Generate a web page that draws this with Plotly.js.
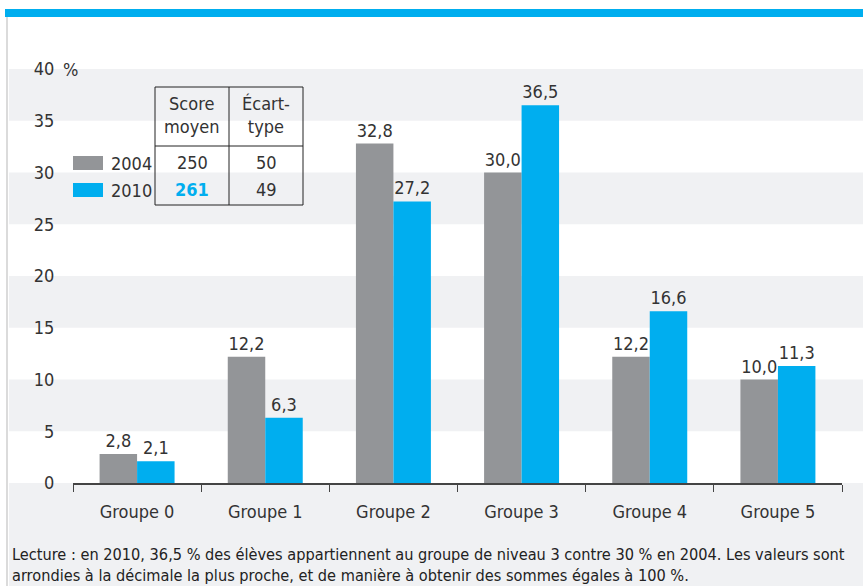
<!DOCTYPE html>
<html>
<head>
<meta charset="utf-8">
<script src="https://cdn.plot.ly/plotly-3.0.1.min.js"></script>
<style>html,body{margin:0;padding:0;background:#fff;}#chart{width:863px;height:586px;}</style>
</head>
<body>
<div id="chart"></div>
<script>
// ---- data ----
var categories = ["Groupe 0", "Groupe 1", "Groupe 2", "Groupe 3", "Groupe 4", "Groupe 5"];
var seriesNames = ["2004", "2010"];
var values2004 = [2.8, 12.2, 32.8, 30.0, 12.2, 10.0];
var values2010 = [2.1, 6.3, 27.2, 36.5, 16.6, 11.3];
var yTickVals = [0, 5, 10, 15, 20, 25, 30, 35, 40];
var yTickText = ["0", "5", "10", "15", "20", "25", "30", "35", "40"];
var tableHeader = ["Score<br>moyen", "Écart-<br>type"];
var scoreMoyen = ["250", "261"];
var ecartType = ["50", "49"];
var footnote = "Lecture : en 2010, 36,5 % des élèves appartiennent au groupe de niveau 3 contre 30 % en 2004. Les valeurs sont<br>arrondies à la décimale la plus proche, et de manière à obtenir des sommes égales à 100 %.";

// ---- layout geometry (pixels) ----
var W = 863, H = 586;
var mL = 73, mR = 21, mT = 69, mB = 103;
var pw = W - mL - mR, ph = H - mT - mB;
function px(x){ return (x - mL) / pw; }
function py(y){ return (H - mB - y) / ph; }

var FONT = "'Liberation Sans Narrow', 'DejaVu Sans Condensed', 'Arial Narrow', sans-serif";
var GRAY = "#939598", BLUE = "#00aeef", TXT = "#333333";
var FS = 18;

var traces = [
  {type: "bar", name: seriesNames[0], x: categories, y: values2004, marker: {color: GRAY},
   texttemplate: "%{y:.1f}", textposition: "outside", cliponaxis: false,
   textfont: {family: FONT, size: FS, color: TXT}, hoverinfo: "none", showlegend: false},
  {type: "bar", name: seriesNames[1], x: categories, y: values2010, marker: {color: BLUE},
   texttemplate: "%{y:.1f}", textposition: "outside", cliponaxis: false,
   textfont: {family: FONT, size: FS, color: TXT}, hoverinfo: "none", showlegend: false}
];

var shapes = [];
// alternating background bands
for (var i = 0; i < yTickVals.length - 1; i++) {
  if (i % 2 === 1) {
    shapes.push({type: "rect", layer: "below", xref: "paper", yref: "y",
      x0: px(9), x1: px(W + 5), y0: yTickVals[i], y1: yTickVals[i + 1],
      fillcolor: "#f0f1f3", line: {width: 0}});
  }
}
// footer band
shapes.push({type: "rect", layer: "below", xref: "paper", yref: "paper",
  x0: px(9), x1: px(W + 5), y0: py(H + 5), y1: 0, fillcolor: "#f0f1f3", line: {width: 0}});
// top blue bar
shapes.push({type: "rect", layer: "above", xref: "paper", yref: "paper",
  x0: px(5), x1: px(W + 5), y0: py(17), y1: py(9), fillcolor: BLUE, line: {width: 0}});
// left frame line
shapes.push({type: "line", layer: "above", xref: "paper", yref: "paper",
  x0: px(7), x1: px(7), y0: py(17), y1: py(H + 5), line: {color: "#cfcfcf", width: 1.5}});
// table
shapes.push({type: "rect", layer: "above", xref: "paper", yref: "paper",
  x0: px(155), x1: px(303), y0: py(205), y1: py(87), fillcolor: "rgba(0,0,0,0)", line: {color: "#222", width: 1}});
shapes.push({type: "line", layer: "above", xref: "paper", yref: "paper",
  x0: px(229), x1: px(229), y0: py(205), y1: py(87), line: {color: "#222", width: 1}});
shapes.push({type: "line", layer: "above", xref: "paper", yref: "paper",
  x0: px(155), x1: px(303), y0: py(146), y1: py(146), line: {color: "#222", width: 1}});
// legend swatches
shapes.push({type: "rect", layer: "above", xref: "paper", yref: "paper",
  x0: px(73), x1: px(103), y0: py(170), y1: py(156), fillcolor: GRAY, line: {width: 0}});
shapes.push({type: "rect", layer: "above", xref: "paper", yref: "paper",
  x0: px(73), x1: px(103), y0: py(197), y1: py(183), fillcolor: BLUE, line: {width: 0}});

function ann(text, x, y, opts) {
  var a = {text: text, xref: "paper", yref: "paper", x: px(x), y: py(y), showarrow: false,
    xanchor: "center", yanchor: "middle", font: {family: FONT, size: FS, color: TXT}};
  for (var k in opts) a[k] = opts[k];
  return a;
}
var annotations = [
  ann("%", 61, 69, {xanchor: "left"}),
  ann(tableHeader[0], 192, 115),
  ann(tableHeader[1], 266, 115),
  ann(scoreMoyen[0], 192, 162),
  ann(scoreMoyen[1], 192, 189, {font: {family: FONT, size: FS, color: BLUE}, text: "<b>" + scoreMoyen[1] + "</b>"}),
  ann(ecartType[0], 266, 162),
  ann(ecartType[1], 266, 189),
  ann(seriesNames[0], 109, 163, {xanchor: "left"}),
  ann(seriesNames[1], 109, 190, {xanchor: "left"}),
  ann(footnote, 10, 565, {xanchor: "left", align: "left", font: {family: FONT, size: 16.2, color: "#222"}})
];

var layout = {
  width: W, height: H,
  margin: {l: mL, r: mR, t: mT, b: mB, pad: 0},
  paper_bgcolor: "#ffffff", plot_bgcolor: "rgba(0,0,0,0)",
  separators: ", ",
  barmode: "group", bargap: 0.415, bargroupgap: 0,
  showlegend: false,
  font: {family: FONT, size: FS, color: TXT},
  xaxis: {type: "category", showgrid: false, zeroline: false, showline: true, linecolor: "#444", linewidth: 1.5,
    ticks: "outside", tickson: "boundaries", ticklen: 7, tickcolor: "#444", tickwidth: 1,
    tickfont: {family: FONT, size: FS, color: TXT}, ticklabelstandoff: 12},
  yaxis: {range: [0, 40], showgrid: false, zeroline: false, showline: false,
    tickmode: "array", tickvals: yTickVals, ticktext: yTickText,
    ticks: "outside", ticklen: 14, tickcolor: "rgba(0,0,0,0)",
    tickfont: {family: FONT, size: FS, color: TXT}},
  shapes: shapes,
  annotations: annotations
};

Plotly.newPlot("chart", traces, layout, {displayModeBar: false, staticPlot: true});
</script>
</body>
</html>
